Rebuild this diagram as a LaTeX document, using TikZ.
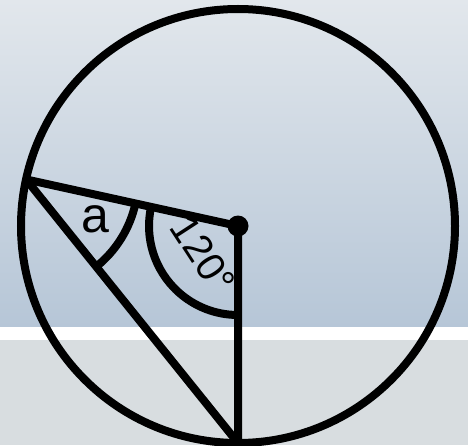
\documentclass[tikz,border=0pt]{standalone}
\usepackage{fontspec}
\setmainfont{Liberation Sans}
\usetikzlibrary{calc}
\definecolor{bgtop}{RGB}{226,231,236}
\definecolor{bgbot}{RGB}{182,198,215}
\definecolor{bglow}{RGB}{216,221,224}
\tikzset{
  geo/.style={line width=8pt, draw=black},
  lbl/.style={inner sep=0pt, text=black}
}
\begin{document}
\begin{tikzpicture}[x=1pt,y=1pt]
\useasboundingbox (0,0) rectangle (468,445);
\shade[top color=bgtop, bottom color=bgbot] (0,118) rectangle (468,445);
\fill[white] (0,105) rectangle (468,118);
\fill[bglow] (0,0) rectangle (468,105);
\coordinate (O) at (238,219);
\coordinate (A) at ($(O)+(167.6:217)$);
\coordinate (B) at ($(O)+(270:217)$);
\draw[geo] (O) circle[radius=217];
\draw[geo, line join=round] (A) -- (O) -- (B);
\draw[geo] (A) -- (B);
\fill (O) circle[radius=10.5];
\draw[geo] ($(O)+(167.6:89)$) arc[start angle=167.6,end angle=270,radius=89];
\draw[geo] ($(A)+(-12.4:112)$) arc[start angle=-12.4,end angle=-51.2,radius=112];
\node[lbl, font=\fontsize{50}{50}\selectfont] (la) at (95,226) {a};
\node[lbl, font=\fontsize{40}{40}\selectfont, rotate=-57] (l120) at (203,190) {120°};
\end{tikzpicture}
\end{document}
